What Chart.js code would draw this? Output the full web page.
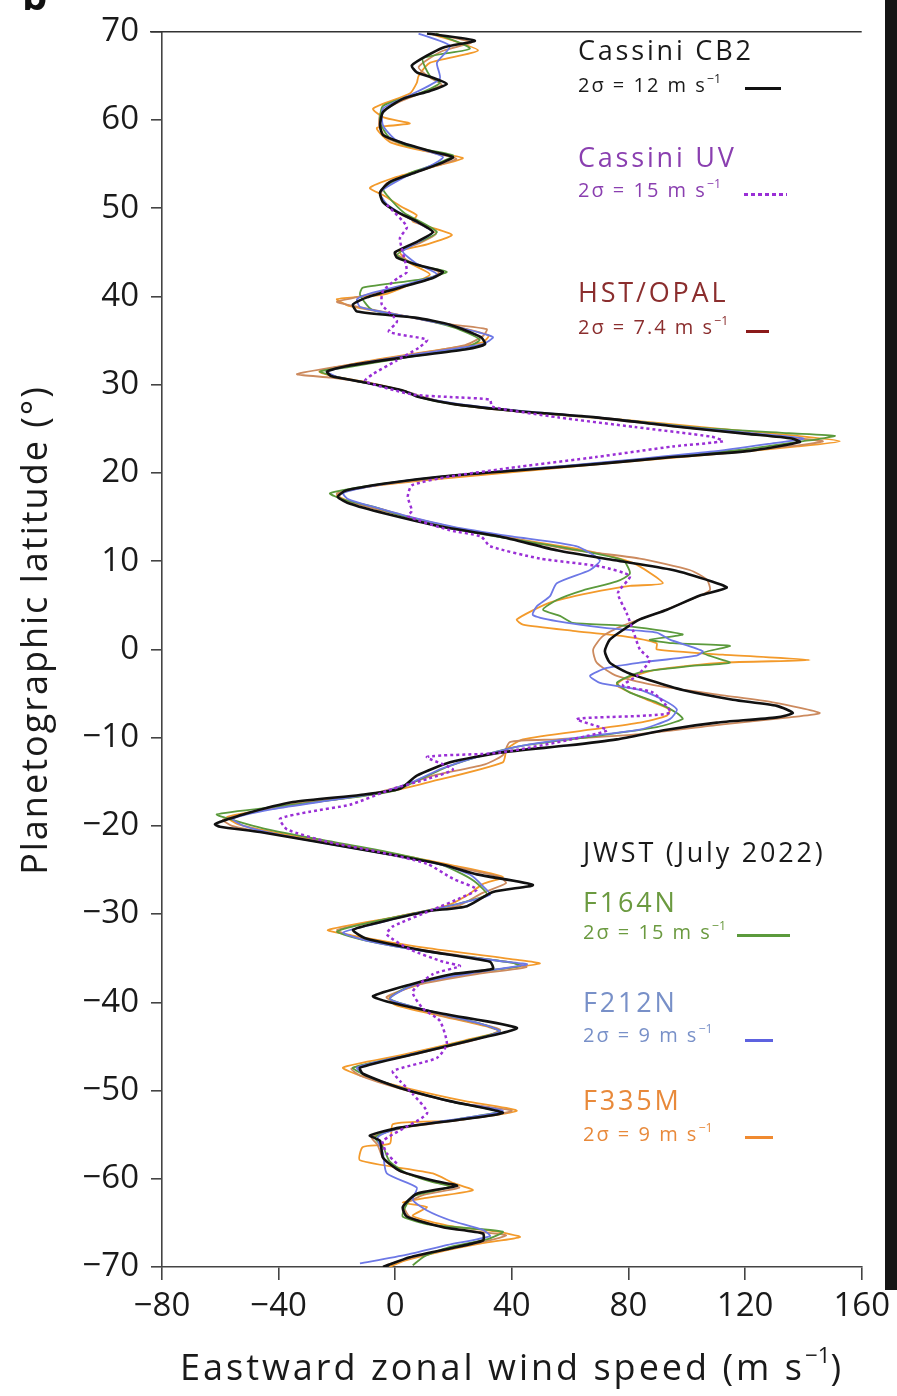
<!DOCTYPE html>
<html>
<head>
<meta charset="utf-8">
<title>Saturn zonal winds</title>
<script src="https://cdn.jsdelivr.net/npm/chart.js@4.4.1/dist/chart.umd.min.js"></script>
<style>
  html, body { margin: 0; padding: 0; background: #fff; }
  #wrap { position: relative; width: 897px; height: 1396px; overflow: hidden; font-family: "Open Sans", Roboto, sans-serif; }
  #wrap canvas { position: absolute; left: 0; top: 0; }
  .lg { position: absolute; white-space: nowrap; line-height: 1; }
  .big { font-size: 27px; letter-spacing: 2.8px; }
  .small { font-size: 20px; letter-spacing: 2px; }
  sup { font-size: 0.62em; vertical-align: 0.75em; line-height: 0; letter-spacing: 0; }
  .sw { position: absolute; height: 3px; }
  .axt { position: absolute; white-space: nowrap; text-align: center; color: #1a1a1a; font-size: 36px; line-height: 50px; height: 50px; }
  #xTitle { left: 162px; top: 1342px; width: 700px; letter-spacing: 3px; }
  #yTitle { left: -266px; top: 605px; width: 600px; letter-spacing: 2px; transform: rotate(-90deg); }
  #edge { position: absolute; right: 0; top: 0; width: 12px; height: 1290px; background: #151515; }
  #panel { position: absolute; left: 22px; top: -33px; font: bold 40px "Open Sans", sans-serif; color: #111; }
</style>
</head>
<body>
<div id="wrap">
  <canvas id="windChart" width="897" height="1396"></canvas>
  <div id="panel">b</div>
  <div id="edge"></div>

  <div class="axt" id="xTitle">Eastward zonal wind speed (m s<sup>−1</sup>)</div>
  <div class="axt" id="yTitle">Planetographic latitude (°)</div>

  <div class="lg big" style="left:578px;top:36px;color:#1a1a1a">Cassini CB2</div>
  <div class="lg small" style="left:578px;top:75px;color:#1a1a1a">2σ = 12 m s<sup>−1</sup></div>
  <div class="sw" style="left:745px;top:87px;width:36px;background:#111"></div>

  <div class="lg big" style="left:578px;top:143px;color:#8a3fb0">Cassini UV</div>
  <div class="lg small" style="left:578px;top:180px;color:#8a3fb0">2σ = 15 m s<sup>−1</sup></div>
  <div class="sw" style="left:744px;top:193px;width:43px;background:repeating-linear-gradient(90deg,#9a2fd6 0 4px,transparent 4px 7px)"></div>

  <div class="lg big" style="left:578px;top:278px;color:#8b2e2e">HST/OPAL</div>
  <div class="lg small" style="left:578px;top:317px;color:#8b2e2e">2σ = 7.4 m s<sup>−1</sup></div>
  <div class="sw" style="left:746px;top:330px;width:23px;background:#8b1a1a"></div>

  <div class="lg big" style="left:583px;top:838px;color:#1a1a1a">JWST (July 2022)</div>
  <div class="lg big" style="left:583px;top:888px;color:#6b9a40">F164N</div>
  <div class="lg small" style="left:583px;top:922px;color:#6b9a40">2σ = 15 m s<sup>−1</sup></div>
  <div class="sw" style="left:737px;top:934px;width:53px;background:#5b9a3c"></div>

  <div class="lg big" style="left:583px;top:988px;color:#7890c8">F212N</div>
  <div class="lg small" style="left:583px;top:1025px;color:#7890c8">2σ = 9 m s<sup>−1</sup></div>
  <div class="sw" style="left:745px;top:1039px;width:28px;background:#5d62e0"></div>

  <div class="lg big" style="left:583px;top:1086px;color:#e8893a">F335M</div>
  <div class="lg small" style="left:583px;top:1124px;color:#e8893a">2σ = 9 m s<sup>−1</sup></div>
  <div class="sw" style="left:745px;top:1136px;width:28px;background:#f08a30"></div>
</div>

<script>
// each profile is a list of [planetographic latitude (deg), eastward wind (m/s)]
const cassiniCB2 = [
  [69.8,10.9],[69,27.3],[68.2,16.3],[66.2,5.7],[65.4,7.4],[64.8,12.9],[64.1,17.7],[63.3,11.9],[62.4,2.6],[60.9,-4.2],
  [59.4,-5.2],[58.3,-4.2],[57.4,2.6],[56.4,12.9],[55.8,19.8],[55.2,16.4],[54.1,7.4],[53,-1.8],[51.8,-5.2],[50.7,-4.2],
  [49.6,0.6],[48.5,7.4],[47.3,12.9],[46.2,7.4],[45,-0.1],[44.4,0.6],[43.6,7.4],[42.8,16.3],[42.1,12.9],[41,1.6],
  [39.9,-9.7],[39.1,-14.5],[38.3,-13.1],[37.6,6.8],[36.8,18.8],[35.4,29.4],[34.6,30.8],[34,23.9],[33.1,3],[32.1,-16.9],
  [31.5,-23.4],[31,-22],[30.4,-12.8],[29.3,3],[28.6,8.1],[27.8,20.1],[27,42.4],[26.3,68.8],[25.3,95.2],[24.4,121.6],
  [23.9,136],[23.5,138.8],[22.5,121.6],[21.8,95.2],[21,68.8],[20.3,42.4],[19.6,16],[18.8,-3.5],[18,-16.9],[17.3,-19.7],
  [16.5,-15.5],[15.4,-3.5],[13.9,16],[12.8,35.9],[11.2,55.8],[10.1,75.3],[9,95.2],[7.7,108.6],[7,113.7],[6.1,104.5],
  [4.5,93.2],[3.4,83.9],[2.2,78.1],[1.1,73.6],[-0.2,71.9],[-1.5,73.6],[-2.6,79.4],[-3.5,87.3],[-4.6,98.6],[-5.7,115.8],
  [-6.4,130.9],[-7.2,136.4],[-7.7,130.9],[-8.3,110.3],[-9.1,93.2],[-10.2,76],[-10.9,58.9],[-11.7,35.9],[-12.8,18.8],[-14.3,7.4],
  [-15.8,1.6],[-16.5,-12.1],[-17.3,-35.1],[-18.7,-52.2],[-19.8,-61.8],[-20.1,-60.1],[-20.7,-46.4],[-22,-23.4],[-23.3,-0.8],[-24.4,16.4],
  [-25.5,28],[-26.7,47.2],[-27.5,33.5],[-29.1,24.6],[-29.7,10.9],[-31,-6.3],[-31.8,-14.5],[-32.8,-9.7],[-34.2,10.9],[-35.4,32.5],
  [-36.2,33.5],[-36.8,19.8],[-38,5],[-39.3,-7.6],[-39.9,-2.9],[-41.3,16.4],[-42.9,41.7],[-44,30.1],[-45.8,7.4],[-47.4,-12.1],
  [-48.1,-11.1],[-49.7,1.6],[-51.2,18.8],[-52.5,36.9],[-53.2,24.6],[-54.2,1.6],[-55.1,-8.7],[-55.7,-5.2],[-57.6,-4.2],[-59.1,1.6],
  [-60.2,12.9],[-60.8,21.2],[-61.7,7.4],[-63.2,2.6],[-64.3,4],[-65.5,16.4],[-66.2,30.1],[-67,30.1],[-67.9,18.8],[-68.9,5],
  [-70,-4.2]
];

const cassiniUV = [
  [50.4,-2.9],[47.9,4],[46.6,1.6],[42.8,4],[42.1,0.9],[40.6,-4.2],[39.1,-4.6],[37.2,0.6],[36,-2.2],[35.1,10.9],
  [34.2,8.1],[32.7,0.3],[31.2,-7.7],[30.4,-10.4],[28.9,5.7],[28.6,18.8],[28.3,32.5],[27.5,33.2],[26.3,55.8],[25.2,82.2],
  [24.1,108.6],[23.6,112.4],[23,95.2],[21.8,68.8],[20.7,42.4],[19.6,18.8],[18.6,5.7],[17.3,4.3],[15.7,5.7],[15.1,4.3],
  [13.5,18.8],[12.8,29.4],[11.7,32.5],[10.3,49.6],[9.4,70.2],[8.3,80.5],[6.4,76.4],[4.1,79.4],[2.2,81.5],[0,83.9],
  [-1.2,87.3],[-3,82.9],[-4.1,78.1],[-4.9,88.4],[-7.2,94.2],[-7.9,62.3],[-9.2,72.6],[-11.7,35.9],[-12.2,10.9],[-13.6,19.8],
  [-14.7,10.9],[-15.8,-0.8],[-17.6,-15.5],[-18.4,-29.3],[-19.2,-39.5],[-20.4,-37.1],[-21.8,-23.4],[-22.9,-6.3],[-24.3,10.9],[-26,19.8],
  [-27.2,28],[-28.2,22.2],[-29.5,12.9],[-31.4,-0.8],[-32.3,-2.9],[-34,5],[-35.4,16.4],[-35.9,22.2],[-36.8,12.9],[-38.8,6],
  [-40.7,9.5],[-42.1,15.3],[-44.7,17.7],[-46.3,14.3],[-47.8,-0.8],[-48.9,1.6],[-50.4,6],[-52.6,10.9],[-55.7,-4.2],[-57.1,-2.9],
  [-58.3,0.6]
];

const hstOpal = [
  [69.8,12],[68.8,26],[67.8,16],[66,8],[64.8,12],[64,16],[63.2,10],[62,1],[60.8,-5],[59.3,-5.5],
  [58,-3],[57.2,3],[56.2,14],[55.6,21],[55,16],[54,6],[52.8,-3],[51.5,-5],[50.4,-3],[49.3,2],
  [48.3,8],[47.1,14],[46,8],[45,0],[43.8,6],[42.8,15],[42,12],[41,0],[40,-12],[39.4,-20],
  [38.9,-14],[38,0],[37,15],[36.3,31.4],[35.5,30],[34.5,24],[33.4,5],[32.3,-15],[31.2,-33.7],[30.8,-22],
  [30.2,-10],[29.3,3],[28.4,12],[27.7,22],[26.9,44],[26.2,70],[25.2,98],[24.2,128],[23.6,146.7],[23,135],
  [22.2,110],[21.5,85],[20.7,58],[20,32],[19.2,8],[18.4,-10],[17.7,-20],[17,-18],[16.2,-10],[15.2,2],
  [13.8,20],[12.6,40],[11.3,60],[10.3,83.9],[9,101],[7.9,106.9],[6.7,107.9],[5.6,101],[4.1,89.7],[2.7,78.1],
  [1.5,71.2],[0,67.9],[-1.5,69.1],[-3,76],[-4.1,89.7],[-5.2,112.4],[-6,129.5],[-7.2,145.6],[-7.7,135.3],[-8.5,112.4],
  [-9.6,83.9],[-10.2,55.4],[-10.5,39.3],[-12,36.9],[-13.1,30.1],[-14.3,12.9],[-15.5,2],[-16.5,-10],[-17.5,-35],[-18.7,-52],
  [-19.3,-59.1],[-20,-56],[-20.8,-44],[-22,-22],[-23.3,0],[-24.5,18],[-25.8,36],[-26.5,38],[-27.6,30],[-29,22],
  [-30,5],[-31.2,-12],[-31.8,-20],[-32.8,-12],[-34.2,12],[-35.5,40],[-36,45],[-36.8,28],[-38,8],[-39.4,-3],
  [-40,0],[-41.5,16],[-43.1,36],[-44.2,28],[-46,5],[-47.5,-15],[-48.3,-12],[-49.8,2],[-51.3,20],[-52.3,40],
  [-53.2,25],[-54.2,3],[-55.3,-8],[-56.2,-6],[-57.8,-4],[-59.2,2],[-60.4,14],[-61,22],[-61.8,10],[-63,3],
  [-64.3,5],[-65.6,18],[-66.4,38],[-67,32],[-68,18],[-69,5],[-69.8,-3]
];

const jwstF164N = [
  [69.8,14],[68.1,25.6],[67,9.5],[65,11.9],[64.2,15.3],[63,8],[61.6,-4.2],[59.7,-5.2],[58,-2],[57,5],
  [56,19.8],[55,14],[54,5],[52.3,-4.2],[51.5,-2.9],[49.5,3],[47.3,14.3],[46,7],[44.7,0.6],[43.5,8],
  [42.8,17.7],[42,10],[41,-11.1],[40.2,-12.1],[38.5,-8],[37.5,8],[36.5,20],[35.1,29],[34.2,24],[33,2],
  [32,-16],[31.5,-25.8],[30.9,-20],[30.2,-10],[29.2,4],[28.5,9],[27.7,22],[26.9,45],[26.1,75],[25.1,105],
  [24.5,135],[24.2,150.8],[23.6,140],[22.6,118],[21.8,92],[21,66],[20.3,40],[19.5,14],[18.6,-8],[17.7,-22.4],
  [17,-18],[16.2,-8],[15.2,2],[13.8,18],[12.6,38],[11.4,60],[10.1,78.1],[8.6,80.5],[7.7,76],[6.7,64.4],
  [5.6,55.4],[4.5,50.7],[3.8,56.5],[3,60.9],[2.7,78.1],[1.7,98.6],[1.1,87.3],[0.7,95.2],[0.4,114.8],[-0.4,105.5],
  [-1.5,114.8],[-1.9,101],[-2.6,83.9],[-3.8,76],[-4.9,80.5],[-6,89.7],[-7.2,96.6],[-7.9,98.6],[-8.8,89.7],[-9.9,66.8],
  [-10.9,43.8],[-12,30],[-13.3,18],[-14.8,8],[-16,0],[-16.8,-15],[-17.8,-40],[-18.7,-61.2],[-19.4,-55],[-20.3,-45],
  [-21.6,-25],[-23,-2],[-24.3,15],[-25.5,23.2],[-26.5,28],[-27.8,31.4],[-28.8,22],[-30,5],[-31.2,-12],[-32,-20],
  [-33,-10],[-34.3,12],[-35.5,40],[-35.9,42.8],[-36.7,25],[-38,6],[-39.6,-1.8],[-41,12],[-42.5,30],[-43.3,35.9],
  [-44.3,25],[-46,4],[-47.4,-14.5],[-48.3,-10],[-49.8,3],[-51.3,20],[-52.4,35],[-53.2,22],[-54.3,1],[-55.3,-7],
  [-56.5,-4],[-58,-2],[-59.4,4],[-60.3,12],[-60.9,18.8],[-62,6],[-63.5,3],[-64.3,2.6],[-65.2,12],[-66,36.9],
  [-66.8,32],[-67.8,18],[-68.8,10],[-69.8,6]
];

const jwstF212N = [
  [69.8,8],[68.4,18.8],[66.5,14.3],[64.7,15.3],[62.8,5],[61.3,-4.2],[59.4,-4.2],[57.8,0],[56.8,8],[55.8,16.4],
  [54.8,12],[53.5,3],[51.8,-5.2],[50.5,-3],[49,4],[47.3,12.9],[46,7],[45.1,2.6],[43.8,7],[42.5,14.3],
  [41.5,5],[40.4,-8],[39.7,-13.1],[38.8,-12],[37.8,3],[36.8,18],[35.4,33.5],[34.6,30],[33.5,8],[32.4,-12],
  [31.5,-23.4],[30.9,-20],[30.2,-10],[29.2,4],[28.5,10],[27.8,22],[27,44],[26.2,72],[25.2,100],[24.4,126],
  [23.9,140.1],[23.3,128],[22.4,108],[21.6,84],[20.8,58],[20.1,32],[19.3,8],[18.5,-8],[17.7,-17.9],[17,-16],
  [16.2,-8],[15.2,3],[13.9,20],[12.8,40],[11.7,62],[10.1,70.2],[9,66.8],[7.5,55.4],[6,53],[4.9,48.6],
  [3.9,47.2],[3.2,55.4],[2.4,72.6],[1.9,89.7],[1.1,94.2],[-0.2,105.5],[-0.7,103.4],[-1.5,83.9],[-2.1,72.6],[-3,66.8],
  [-3.8,70.2],[-4.6,83.9],[-5.7,91.8],[-6.8,96.6],[-7.9,94.2],[-9.1,83.9],[-9.8,66.8],[-10.9,43.8],[-12.2,28],[-13.5,16],
  [-15,6],[-16.2,-5],[-17,-20],[-18.1,-42],[-19.2,-55.7],[-20,-52],[-21,-40],[-22.2,-20],[-23.5,2],[-24.6,18],
  [-25.6,26],[-26.8,30],[-27.8,32.5],[-28.8,22],[-30,6],[-31.2,-8],[-32.1,-17.9],[-33,-10],[-34.3,12],[-35.4,38],
  [-35.7,45.2],[-36.5,30],[-37.8,8],[-39.6,-1.8],[-41,12],[-42.5,30],[-43.3,35.9],[-44.3,26],[-46,4],[-47.4,-13.1],
  [-48.3,-10],[-49.8,3],[-51.3,20],[-52.3,36.9],[-53.1,24],[-54.2,2],[-55.3,-6],[-57.1,-4.2],[-59.4,-2.9],[-61,7.4],
  [-62.4,6],[-63.6,10.9],[-64.7,18.8],[-65.8,30.1],[-66.5,32.5],[-67.5,18],[-68.6,4],[-69.6,-12.1]
];

const jwstF335M = [
  [69.8,12],[67.9,28.4],[66.5,12],[65,8],[64.2,7.4],[63,5],[61.3,-7.6],[60.3,-4],[59.6,5],[59.1,-6.3],
  [57.5,-1.8],[56.5,10],[55.7,23.2],[54.8,14],[53.5,0],[52.3,-8.7],[51.5,-4.2],[50.2,2],[49.2,7.4],[48.5,6],
  [47,19.4],[45.9,10.9],[45.1,1.6],[43.8,5],[42.5,11.9],[41.2,4],[40.2,-4.2],[39.7,-20],[38.9,-15.5],[37.8,3],
  [36.8,18],[35.6,32],[34.8,30],[33.6,8],[32.4,-14],[31.5,-26],[31,-22],[30.3,-10],[29.3,3],[28.5,10],
  [27.7,22],[26.9,46],[26.1,76],[25.1,108],[24.2,138],[23.6,152.5],[23,138],[22.2,112],[21.5,88],[20.7,60],
  [19.9,34],[19.1,8],[18.3,-12],[17.5,-20],[16.8,-16],[16,-6],[15,5],[13.7,22],[12.5,42],[11.3,64],
  [9.8,81.5],[7.5,91.8],[7.2,80.5],[6.4,66.8],[5.3,53],[3.4,41.7],[2.8,43.8],[2.1,60.9],[1.5,78.1],[0.7,89.7],
  [0,89.7],[-0.6,112.4],[-1.2,142.2],[-1.5,112.4],[-2.3,89.7],[-3.4,78.1],[-4.1,76],[-5.7,86.3],[-6.8,94.2],[-7.5,93.2],
  [-8.3,83.9],[-9.1,66.8],[-10.2,43.8],[-11.3,38.3],[-12.8,36.9],[-15.1,10.9],[-16.3,-5],[-17.2,-25],[-18.2,-45],[-19,-57.7],
  [-19.8,-54],[-20.7,-42],[-21.9,-22],[-23.2,0],[-24.5,20],[-25.8,36.9],[-26.6,30],[-27.8,25],[-29,18],[-30.2,2],
  [-31.8,-23.1],[-32.4,-15],[-33.8,10],[-35.2,42],[-35.6,49.6],[-36.3,35],[-37.6,12],[-39.3,-2],[-40.3,0],[-41.5,15],
  [-42.8,32],[-43.3,35.9],[-44.3,24],[-46,2],[-47.4,-17.9],[-48.3,-12],[-49.8,5],[-51.2,24],[-52.3,41.7],[-53.4,20],
  [-53.8,-0.8],[-56,-1.8],[-56.4,-11.1],[-57.9,-12.1],[-59.4,12.9],[-60.5,20],[-61.3,26.6],[-62.2,10],[-62.7,2.6],[-63.2,10.9],
  [-64.2,6],[-65.3,18],[-66,35],[-66.6,42.8],[-67.3,30],[-68.3,15],[-69.3,3],[-70,-2]
];

const windTicks = { min: -80, max: 160, step: 40 };
const latTicks = { min: -70, max: 70, step: 10 };

function toPoints(profile) {
  return profile.map(p => ({ x: p[1], y: p[0] }));
}

function minus(v) {
  return String(v).replace('-', '\u2212');
}

// top frame line of the panel
const topLine = {
  id: 'topLine',
  afterDraw(chart) {
    const { ctx, chartArea } = chart;
    ctx.save();
    ctx.strokeStyle = '#333';
    ctx.lineWidth = 1.5;
    ctx.beginPath();
    ctx.moveTo(chartArea.left - 12, chartArea.top);
    ctx.lineTo(chartArea.right, chartArea.top);
    ctx.stroke();
    ctx.restore();
  }
};

function line(label, profile, color, width, dash) {
  return {
    label: label,
    data: toPoints(profile),
    showLine: true,
    borderColor: color,
    backgroundColor: color,
    borderWidth: width,
    borderDash: dash || [],
    pointRadius: 0,
    tension: 0.2,
    fill: false
  };
}

window.addEventListener('DOMContentLoaded', () => {
  const ctx = document.getElementById('windChart').getContext('2d');
  const tickFont = { family: '"Open Sans", Roboto, sans-serif', size: 33 };

  // first dataset is drawn on top
  window._windChart = new Chart(ctx, {
    type: 'scatter',
    data: {
      datasets: [
        line('Cassini UV', cassiniUV, '#9a2fd6', 2.5, [3, 3]),
        line('Cassini CB2', cassiniCB2, '#111111', 2.6),
        line('F212N', jwstF212N, '#6d78e6', 1.8),
        line('F164N', jwstF164N, '#5b9a3c', 1.8),
        line('HST/OPAL', hstOpal, '#cc8a5e', 1.8),
        line('F335M', jwstF335M, '#f39a2b', 1.8)
      ]
    },
    options: {
      responsive: false,
      devicePixelRatio: 1,
      animation: false,
      layout: { padding: { top: 26, right: 35, left: 0, bottom: 0 } },
      plugins: { legend: { display: false }, tooltip: { enabled: false } },
      scales: {
        x: {
          type: 'linear',
          min: windTicks.min,
          max: windTicks.max,
          border: { display: true, color: '#444', width: 1.6 },
          grid: { drawOnChartArea: false, drawTicks: true, tickLength: 13, color: '#444', lineWidth: 1.6 },
          ticks: { stepSize: windTicks.step, autoSkip: false, maxRotation: 0, padding: 7, color: '#1a1a1a', font: tickFont, callback: v => minus(v) },
          afterFit: s => { s.height = 129; }
        },
        y: {
          type: 'linear',
          min: latTicks.min,
          max: latTicks.max,
          border: { display: true, color: '#444', width: 1.6 },
          grid: { drawOnChartArea: false, drawTicks: true, tickLength: 11, color: '#444', lineWidth: 1.6 },
          ticks: { stepSize: latTicks.step, autoSkip: false, padding: 12, color: '#1a1a1a', font: tickFont, callback: v => minus(v) },
          afterFit: s => { s.width = 162; }
        }
      }
    },
    plugins: [topLine]
  });
});
</script>
</body>
</html>
